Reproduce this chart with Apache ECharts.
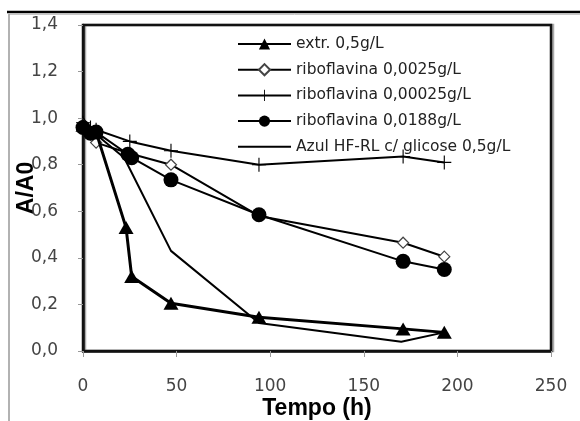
<!DOCTYPE html>
<html>
<head>
<meta charset="utf-8">
<script src="https://cdn.jsdelivr.net/npm/echarts@6/dist/echarts.min.js"></script>
<style>
  html, body { margin: 0; padding: 0; background: #fff; }
  #chart { width: 580px; height: 421px; }
</style>
</head>
<body>
<div id="chart"></div>
<script>
// Absorbance decay A/A0 over time (h) for each treatment
const seriesNames = [
  'extr. 0,5g/L',
  'riboflavina 0,0025g/L',
  'riboflavina 0,00025g/L',
  'riboflavina 0,0188g/L',
  'Azul HF-RL c/ glicose 0,5g/L'
];

const extrTime  = [0, 7, 23, 26, 47, 94, 171, 193];
const extrValue = [0.97, 0.94, 0.53, 0.32, 0.205, 0.145, 0.095, 0.08];

const ribo0025Time  = [0, 4, 7, 24, 47, 94, 171, 193];
const ribo0025Value = [0.97, 0.93, 0.895, 0.85, 0.80, 0.58, 0.465, 0.405];

const ribo00025Time  = [0, 4, 7, 25, 47, 94, 171, 193];
const ribo00025Value = [0.98, 0.96, 0.95, 0.90, 0.86, 0.80, 0.835, 0.81];

const ribo0188Time  = [0, 4, 7, 24, 26, 47, 94, 171, 193];
const ribo0188Value = [0.96, 0.935, 0.94, 0.845, 0.83, 0.735, 0.585, 0.385, 0.35];

const azulTime  = [0, 4, 22, 47, 94, 170, 193];
const azulValue = [1.0, 0.95, 0.83, 0.43, 0.12, 0.04, 0.08];

const xTickLabels = ['0', '50', '100', '150', '200', '250'];
const yTickLabels = ['0,0', '0,2', '0,4', '0,6', '0,8', '1,0', '1,2', '1,4'];

const pairs = (t, v) => t.map((x, i) => [x, v[i]]);

// thin "+" marker drawn as a filled cross
const plusPath = 'path://M4.6,0 H5.4 V4.6 H10 V5.4 H5.4 V10 H4.6 V5.4 H0 V4.6 H4.6 Z';

const chart = echarts.init(document.getElementById('chart'), null, { renderer: 'canvas' });

chart.setOption({
  animation: false,
  backgroundColor: '#fff',
  textStyle: { fontFamily: 'DejaVu Sans' },
  grid: {
    left: 83, right: 29, top: 25, bottom: 70,
    containLabel: false,
    outerBoundsMode: 'none',
    show: true,
    backgroundColor: '#fff',
    borderColor: '#111',
    borderWidth: 2.5,
    shadowColor: '#aaa',
    shadowOffsetX: 2,
    shadowOffsetY: 0,
    shadowBlur: 0
  },
  graphic: [
    { type: 'line', shape: { x1: 7, y1: 12, x2: 580, y2: 12 }, style: { stroke: '#000', lineWidth: 2.5 } },
    { type: 'line', shape: { x1: 9, y1: 14.5, x2: 580, y2: 14.5 }, style: { stroke: '#c8c8c8', lineWidth: 1 } },
    { type: 'line', shape: { x1: 9, y1: 14, x2: 9, y2: 421 }, style: { stroke: '#999', lineWidth: 1.5 } }
  ],
  legend: {
    orient: 'vertical',
    left: 237,
    top: 36,
    itemWidth: 53,
    itemHeight: 14,
    itemGap: 9.7,
    padding: 0,
    textStyle: { fontFamily: 'DejaVu Sans', fontSize: 15.5, color: '#222' },
    data: [
      seriesNames[0],
      seriesNames[1],
      seriesNames[2],
      seriesNames[3],
      { name: seriesNames[4], itemStyle: { opacity: 0 } }
    ]
  },
  xAxis: {
    type: 'value',
    min: 0, max: 250, interval: 50,
    name: 'Tempo (h)',
    nameLocation: 'middle',
    nameGap: 46,
    nameMoveOverlap: false,
    nameTextStyle: { fontFamily: 'Liberation Sans', fontWeight: 'bold', fontSize: 23, color: '#000' },
    axisLine: { show: true, lineStyle: { color: '#111', width: 2.5 } },
    axisTick: { show: true, length: 6, lineStyle: { color: '#999', width: 1 } },
    axisLabel: {
      margin: 27, fontSize: 17, color: '#444', fontFamily: 'DejaVu Sans',
      formatter: v => xTickLabels[Math.round(v / 50)]
    },
    splitLine: { show: false }
  },
  yAxis: {
    type: 'value',
    min: 0, max: 1.4, interval: 0.2,
    name: 'A/A0',
    nameLocation: 'middle',
    nameGap: 45,
    nameRotate: 90,
    nameMoveOverlap: false,
    nameTextStyle: { fontFamily: 'Liberation Sans', fontWeight: 'bold', fontSize: 23, color: '#000' },
    axisLine: { show: true, lineStyle: { color: '#111', width: 2.5 } },
    axisTick: { show: true, length: 5, lineStyle: { color: '#999', width: 1 } },
    axisLabel: {
      margin: 25, fontSize: 17, color: '#444', fontFamily: 'DejaVu Sans',
      formatter: v => yTickLabels[Math.round(v / 0.2)]
    },
    splitLine: { show: false }
  },
  series: [
    {
      name: seriesNames[0], type: 'line',
      data: pairs(extrTime, extrValue),
      symbol: 'triangle', symbolSize: [15, 13],
      lineStyle: { color: '#000', width: 3 },
      itemStyle: { color: '#000' },
      z: 5
    },
    {
      name: seriesNames[1], type: 'line',
      data: pairs(ribo0025Time, ribo0025Value),
      symbol: 'diamond', symbolSize: 11,
      lineStyle: { color: '#000', width: 2 },
      itemStyle: { color: '#fff', borderColor: '#444', borderWidth: 1.2 },
      z: 4
    },
    {
      name: seriesNames[2], type: 'line',
      data: pairs(ribo00025Time, ribo00025Value),
      symbol: plusPath, symbolSize: 14,
      lineStyle: { color: '#000', width: 2 },
      itemStyle: { color: '#000' },
      z: 3
    },
    {
      name: seriesNames[3], type: 'line',
      data: pairs(ribo0188Time, ribo0188Value),
      symbol: 'circle', symbolSize: 15,
      lineStyle: { color: '#000', width: 2 },
      itemStyle: { color: '#000' },
      z: 6
    },
    {
      name: seriesNames[4], type: 'line',
      data: pairs(azulTime, azulValue),
      symbol: 'none',
      lineStyle: { color: '#000', width: 2 },
      itemStyle: { color: '#000' },
      z: 2
    }
  ]
});
</script>
</body>
</html>
